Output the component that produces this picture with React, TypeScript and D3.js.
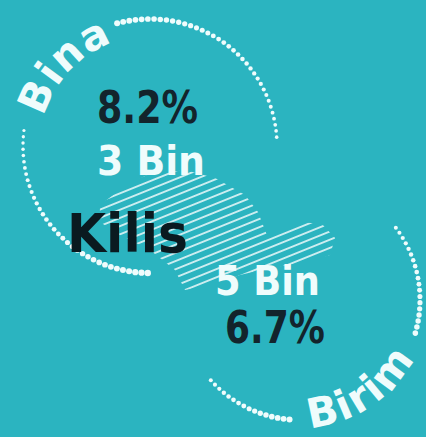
import React from 'react'
import * as d3 from 'd3'

const width = 426
const height = 437

// infographic values
const province = 'Kilis'
const categories = ['Bina', 'Birim']
const shares = ['8.2%', '6.7%']
const counts = ['3 Bin', '5 Bin']

// rough outline of the province, lon / lat
const outlineLon = [36.572, 36.662, 36.774, 36.954, 37.089, 37.224, 37.282, 37.327, 37.39, 37.47, 37.569, 37.628, 37.605, 37.493, 37.336, 37.201, 37.075, 36.954, 36.909, 36.797, 36.662, 36.572]
const outlineLat = [36.852, 36.904, 36.952, 36.973, 36.945, 36.886, 36.827, 36.737, 36.772, 36.793, 36.786, 36.737, 36.678, 36.654, 36.633, 36.609, 36.574, 36.557, 36.626, 36.696, 36.748, 36.793]

const bg = '#2bb4c0'
const light = '#effcfc'
const dark = '#13242c'
const font = 'DejaVu Sans, sans-serif'

// two rings, one per category
const rings = [
	{ cx: 150, cy: 146, r: 127 },
	{ cx: 300, cy: 300, r: 120 }
]

// dotted pieces of each ring (degrees, clockwise from east)
const dotArcs = [
	{ ring: 0, from: -105, to: -4, r0: 3.0, r1: 1.8 },
	{ ring: 0, from: 91, to: 187, r0: 3.2, r1: 1.6 },
	{ ring: 1, from: -37, to: 16, r0: 2.0, r1: 2.8 },
	{ ring: 1, from: 95, to: 138, r0: 3.0, r1: 2.0 }
]

const rad = (d: number) => (d * Math.PI) / 180

function dotsFor(a: typeof dotArcs[number]) {
	const ring = rings[a.ring]
	const len = rad(a.to - a.from) * ring.r
	const n = Math.round(len / 6.2)
	const angle = d3.scaleLinear().domain([0, n]).range([rad(a.from), rad(a.to)])
	const size = d3.scaleLinear().domain([0, n]).range([a.r0, a.r1])
	return d3.range(n + 1).map((i) => ({
		x: ring.cx + ring.r * Math.cos(angle(i)),
		y: ring.cy + ring.r * Math.sin(angle(i)),
		s: size(i)
	}))
}

function labelPath(ring: { cx: number; cy: number }, r: number, mid: number, clockwise: boolean) {
	const p = d3.path()
	const a0 = rad(clockwise ? mid - 70 : mid + 70)
	const a1 = rad(clockwise ? mid + 70 : mid - 70)
	p.moveTo(ring.cx + r * Math.cos(a0), ring.cy + r * Math.sin(a0))
	p.arc(ring.cx, ring.cy, r, a0, a1, !clockwise)
	return p.toString()
}

const App = () => {
	const x = d3.scaleLinear().domain([36.55, 37.65]).range([95, 340])
	const y = d3.scaleLinear().domain([36.98, 36.55]).range([168, 292])
	const shape = d3
		.line<number>()
		.x((i) => x(outlineLon[i]))
		.y((i) => y(outlineLat[i]))
		.curve(d3.curveLinearClosed)(d3.range(outlineLon.length))

	const binaPath = labelPath(rings[0], 110, -137, true)
	const birimPath = labelPath(rings[1], 128, 56, false)

	return (
		<svg
			width={width}
			height={height}
			style={{ position: 'absolute', left: 0, top: 0 }}
			fontFamily={font}
		>
			<defs>
				<pattern
					id="hatch"
					patternUnits="userSpaceOnUse"
					width={10}
					height={7.6}
					patternTransform="rotate(-22)"
				>
					<line x1={0} y1={3.8} x2={10} y2={3.8} stroke="#ffffff" strokeOpacity={0.85} strokeWidth={1.7} />
				</pattern>
				<path id="bina-path" d={binaPath} />
				<path id="birim-path" d={birimPath} />
			</defs>
			<rect width={width} height={height} fill={bg} />

			{/* province shape */}
			<path d={shape || ''} fill="url(#hatch)" />

			{/* dotted rings */}
			{dotArcs.map((a, k) => (
				<g key={k}>
					{dotsFor(a).map((d, i) => (
						<circle key={i} cx={d.x} cy={d.y} r={d.s} fill={light} />
					))}
				</g>
			))}

			{/* ring labels */}
			<text fill={light} fontSize={41} fontWeight="bold" letterSpacing={1}>
				<textPath href="#bina-path" startOffset="50%" textAnchor="middle">
					{categories[0]}
				</textPath>
			</text>
			<text fill={light} fontSize={41} fontWeight="bold" letterSpacing={2}>
				<textPath href="#birim-path" startOffset="50%" textAnchor="middle">
					{categories[1]}
				</textPath>
			</text>

			{/* values */}
			<text x={97} y={123} fontSize={45} fontWeight="bold" fill={dark} textLength={101} lengthAdjust="spacingAndGlyphs">
				{shares[0]}
			</text>
			<text x={97} y={175} fontSize={41} fontWeight="bold" fill={light} textLength={108} lengthAdjust="spacingAndGlyphs">
				{counts[0]}
			</text>
			<text x={67} y={252} fontSize={54} fontWeight="bold" fill="#0a1a20" textLength={121} lengthAdjust="spacingAndGlyphs">
				{province}
			</text>
			<text x={215} y={295} fontSize={41} fontWeight="bold" fill={light} textLength={105} lengthAdjust="spacingAndGlyphs">
				{counts[1]}
			</text>
			<text x={225} y={343} fontSize={45} fontWeight="bold" fill={dark} textLength={100} lengthAdjust="spacingAndGlyphs">
				{shares[1]}
			</text>
		</svg>
	)
}

export default App
